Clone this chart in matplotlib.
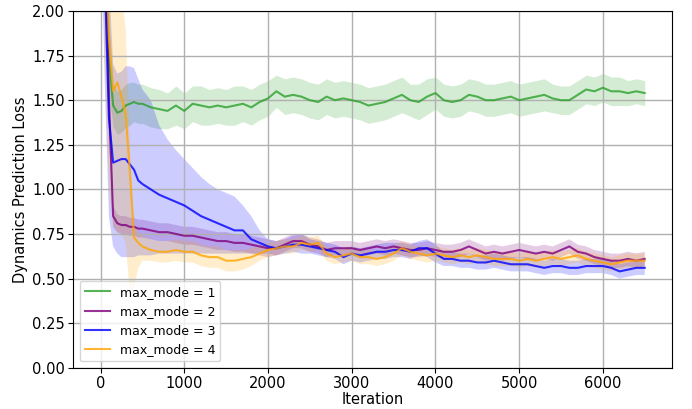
import matplotlib
matplotlib.use("Agg")
import matplotlib.pyplot as plt
import numpy as np

# iteration grid (denser at the start where the curves drop)
iters = [0, 50, 100, 150, 200, 250, 300, 350, 400, 450, 500,
         600, 700, 800, 900, 1000, 1100, 1200, 1300, 1400, 1500,
         1600, 1700, 1800, 1900, 2000, 2100, 2200, 2300, 2400, 2500,
         2600, 2700, 2800, 2900, 3000, 3100, 3200, 3300, 3400, 3500,
         3600, 3700, 3800, 3900, 4000, 4100, 4200, 4300, 4400, 4500,
         4600, 4700, 4800, 4900, 5000, 5100, 5200, 5300, 5400, 5500,
         5600, 5700, 5800, 5900, 6000, 6100, 6200, 6300, 6400, 6500]

# max_mode = 1
mode1_mean = [3.00, 2.40, 1.75, 1.47, 1.43, 1.44, 1.47, 1.48, 1.49, 1.48, 1.48,
              1.46, 1.45, 1.44, 1.47, 1.44, 1.48, 1.47, 1.46, 1.47, 1.46,
              1.47, 1.48, 1.46, 1.49, 1.51, 1.55, 1.52, 1.53, 1.52, 1.50,
              1.49, 1.52, 1.50, 1.51, 1.50, 1.49, 1.47, 1.48, 1.49, 1.51,
              1.53, 1.50, 1.49, 1.52, 1.54, 1.50, 1.49, 1.50, 1.53, 1.52,
              1.50, 1.50, 1.51, 1.52, 1.50, 1.51, 1.52, 1.53, 1.51, 1.50,
              1.50, 1.53, 1.56, 1.55, 1.57, 1.55, 1.55, 1.54, 1.55, 1.54]
mode1_hw = [0.30, 0.30, 0.20, 0.12, 0.12, 0.12, 0.12, 0.12, 0.11, 0.11, 0.11,
            0.11, 0.11, 0.10, 0.11, 0.10, 0.10, 0.11, 0.10, 0.10, 0.10,
            0.11, 0.10, 0.10, 0.10, 0.10, 0.09, 0.10, 0.10, 0.10, 0.10,
            0.10, 0.10, 0.10, 0.10, 0.10, 0.10, 0.10, 0.10, 0.10, 0.10,
            0.10, 0.09, 0.10, 0.10, 0.09, 0.09, 0.09, 0.09, 0.09, 0.09,
            0.09, 0.09, 0.09, 0.09, 0.09, 0.09, 0.09, 0.09, 0.08, 0.08,
            0.08, 0.08, 0.08, 0.08, 0.08, 0.08, 0.08, 0.07, 0.07, 0.07]

# max_mode = 2
mode2_mean = [3.00, 2.60, 1.50, 0.85, 0.81, 0.80, 0.80, 0.79, 0.79, 0.78, 0.78,
              0.77, 0.76, 0.76, 0.75, 0.74, 0.74, 0.73, 0.72, 0.71, 0.71,
              0.70, 0.70, 0.69, 0.68, 0.67, 0.67, 0.69, 0.71, 0.71, 0.69,
              0.68, 0.66, 0.67, 0.67, 0.67, 0.66, 0.67, 0.68, 0.67, 0.68,
              0.67, 0.66, 0.66, 0.67, 0.66, 0.65, 0.65, 0.66, 0.68, 0.66,
              0.64, 0.65, 0.64, 0.65, 0.66, 0.65, 0.64, 0.65, 0.64, 0.66,
              0.68, 0.65, 0.64, 0.62, 0.61, 0.60, 0.60, 0.61, 0.60, 0.61]
mode2_hw = [0.30, 0.30, 0.20, 0.06, 0.05, 0.05, 0.05, 0.05, 0.05, 0.05, 0.05,
            0.05, 0.05, 0.05, 0.05, 0.05, 0.05, 0.05, 0.05, 0.05, 0.05,
            0.05, 0.05, 0.05, 0.05, 0.05, 0.04, 0.04, 0.04, 0.04, 0.04,
            0.04, 0.04, 0.04, 0.04, 0.04, 0.04, 0.04, 0.04, 0.04, 0.04,
            0.04, 0.04, 0.04, 0.04, 0.04, 0.04, 0.04, 0.04, 0.04, 0.04,
            0.04, 0.04, 0.04, 0.04, 0.04, 0.04, 0.04, 0.04, 0.04, 0.04,
            0.04, 0.04, 0.04, 0.04, 0.04, 0.04, 0.04, 0.04, 0.04, 0.04]

# max_mode = 3 (band is asymmetric early on)
mode3_mean = [3.00, 2.20, 1.40, 1.15, 1.16, 1.17, 1.17, 1.14, 1.11, 1.05, 1.03,
              1.00, 0.97, 0.95, 0.93, 0.91, 0.88, 0.85, 0.83, 0.81, 0.79,
              0.77, 0.77, 0.72, 0.70, 0.68, 0.67, 0.68, 0.69, 0.69, 0.68,
              0.67, 0.66, 0.65, 0.62, 0.64, 0.63, 0.64, 0.65, 0.65, 0.66,
              0.66, 0.65, 0.67, 0.67, 0.64, 0.61, 0.61, 0.60, 0.60, 0.59,
              0.59, 0.60, 0.59, 0.58, 0.58, 0.58, 0.57, 0.56, 0.57, 0.57,
              0.56, 0.56, 0.57, 0.57, 0.57, 0.56, 0.54, 0.55, 0.56, 0.56]
mode3_hi = [3.20, 2.80, 2.20, 1.70, 1.65, 1.66, 1.69, 1.69, 1.68, 1.62, 1.56,
            1.50, 1.36, 1.28, 1.22, 1.17, 1.12, 1.07, 1.03, 1.00, 0.98,
            0.96, 0.91, 0.85, 0.77, 0.72, 0.71, 0.72, 0.74, 0.75, 0.72,
            0.71, 0.70, 0.69, 0.67, 0.68, 0.67, 0.68, 0.69, 0.70, 0.70,
            0.70, 0.69, 0.71, 0.72, 0.69, 0.65, 0.65, 0.64, 0.64, 0.63,
            0.63, 0.64, 0.63, 0.62, 0.62, 0.62, 0.61, 0.60, 0.61, 0.61,
            0.60, 0.60, 0.61, 0.61, 0.61, 0.60, 0.58, 0.59, 0.60, 0.60]
mode3_lo = [2.60, 1.60, 0.85, 0.68, 0.64, 0.62, 0.62, 0.62, 0.62, 0.63, 0.63,
            0.63, 0.64, 0.64, 0.64, 0.64, 0.64, 0.64, 0.64, 0.64, 0.64,
            0.64, 0.64, 0.64, 0.64, 0.64, 0.63, 0.64, 0.65, 0.64, 0.64,
            0.63, 0.62, 0.61, 0.58, 0.60, 0.59, 0.60, 0.61, 0.61, 0.62,
            0.62, 0.61, 0.63, 0.62, 0.59, 0.57, 0.57, 0.56, 0.56, 0.55,
            0.55, 0.56, 0.55, 0.54, 0.54, 0.54, 0.53, 0.52, 0.53, 0.53,
            0.52, 0.52, 0.53, 0.53, 0.53, 0.52, 0.50, 0.51, 0.52, 0.52]

# max_mode = 4
mode4_mean = [3.00, 2.50, 1.85, 1.55, 1.60, 1.52, 1.42, 1.10, 0.73, 0.70, 0.68,
              0.66, 0.65, 0.65, 0.66, 0.65, 0.65, 0.63, 0.62, 0.62, 0.60,
              0.60, 0.61, 0.62, 0.64, 0.66, 0.67, 0.68, 0.68, 0.70, 0.69,
              0.70, 0.64, 0.62, 0.63, 0.64, 0.62, 0.62, 0.61, 0.62, 0.64,
              0.67, 0.65, 0.64, 0.63, 0.64, 0.63, 0.62, 0.63, 0.62, 0.63,
              0.62, 0.61, 0.61, 0.61, 0.60, 0.61, 0.60, 0.61, 0.62, 0.61,
              0.62, 0.63, 0.61, 0.60, 0.59, 0.58, 0.59, 0.60, 0.60, 0.60]
mode4_hi = [3.30, 3.00, 2.70, 2.50, 2.30, 2.10, 1.90, 1.25, 0.80, 0.76, 0.74,
            0.72, 0.71, 0.71, 0.72, 0.71, 0.71, 0.69, 0.68, 0.68, 0.66,
            0.66, 0.66, 0.67, 0.68, 0.70, 0.71, 0.72, 0.72, 0.74, 0.73,
            0.74, 0.68, 0.66, 0.67, 0.68, 0.66, 0.66, 0.65, 0.66, 0.68,
            0.71, 0.69, 0.68, 0.67, 0.68, 0.67, 0.66, 0.67, 0.66, 0.67,
            0.66, 0.65, 0.65, 0.65, 0.64, 0.65, 0.64, 0.65, 0.66, 0.65,
            0.66, 0.67, 0.65, 0.64, 0.63, 0.62, 0.63, 0.64, 0.64, 0.64]
mode4_lo = [2.70, 1.70, 1.00, 0.80, 0.76, 0.75, 0.70, 0.42, 0.45, 0.56, 0.60,
            0.60, 0.59, 0.59, 0.60, 0.59, 0.59, 0.57, 0.56, 0.56, 0.54,
            0.54, 0.55, 0.57, 0.60, 0.62, 0.63, 0.64, 0.64, 0.66, 0.65,
            0.66, 0.60, 0.58, 0.59, 0.60, 0.58, 0.58, 0.57, 0.58, 0.60,
            0.63, 0.61, 0.60, 0.59, 0.60, 0.59, 0.58, 0.59, 0.58, 0.59,
            0.58, 0.57, 0.57, 0.57, 0.56, 0.57, 0.56, 0.57, 0.58, 0.57,
            0.58, 0.59, 0.57, 0.56, 0.55, 0.54, 0.55, 0.56, 0.56, 0.56]

labels = ["max_mode = 1", "max_mode = 2", "max_mode = 3", "max_mode = 4"]
colors = ["tab:green", "purple", "blue", "orange"]


def main():
    plt.rcParams['font.size'] = 10.5
    fig = plt.figure(figsize=(6.92, 4.09), dpi=100)
    ax = fig.add_axes([0.106, 0.101, 0.865, 0.872])

    x = np.array(iters)
    m1, h1 = np.array(mode1_mean), np.array(mode1_hw)
    m2, h2 = np.array(mode2_mean), np.array(mode2_hw)
    bands = [(m1, m1 - h1, m1 + h1),
             (m2, m2 - h2, m2 + h2),
             (np.array(mode3_mean), np.array(mode3_lo), np.array(mode3_hi)),
             (np.array(mode4_mean), np.array(mode4_lo), np.array(mode4_hi))]

    for (mean, lo, hi), lab, c in zip(bands, labels, colors):
        ax.plot(x, mean, color=c, lw=1.5, alpha=0.8, label=lab)
        ax.fill_between(x, lo, hi, color=c, alpha=0.2, lw=0)

    ax.set_ylim(0, 2)
    ax.tick_params(axis='both', pad=2.5)
    ax.set_xlabel("Iteration", labelpad=1)
    ax.set_ylabel("Dynamics Prediction Loss", labelpad=3)
    ax.grid(True, color="#b0b0b0", lw=1)
    ax.legend(loc="lower left", fontsize=9)

    fig.savefig("out.png", dpi=100)
    plt.close()


if __name__ == "__main__":
    main()
